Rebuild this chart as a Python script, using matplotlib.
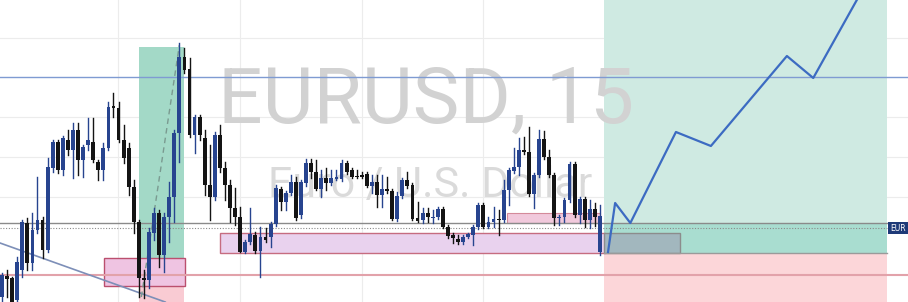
import matplotlib.pyplot as plt
from matplotlib.patches import Rectangle
import numpy as np

# candle colours: 'B' = bullish (blue), 'K' = bearish (black)
# values are chart levels (top = 0)
dirs = list('BKKBBKBBKBBKBKBKBBKK'
            'BBKKKKKKKBBKBBBBKKBK'
            'KKBKKKKKBBKBKBBKBBK'
            'BBKKBKBBBKKKKKBKBKKB'
            'BKKKBKBBKKKKBBBBKBBK'
            'BBBBKKBBKKKBBBKBKBKB')
body_top = [275, 276, 278, 262, 222, 223, 230, 220, 220, 167, 142, 142, 138, 140, 130, 130, 147, 140, 142, 162,
            148, 107, 106, 108, 140, 148, 187, 222, 278, 232, 213, 213, 217, 197, 133, 57, 57, 69, 117, 117,
            138, 185, 135, 135, 168, 185, 208, 217, 242, 234, 235, 237, 237, 224, 188, 189, 193, 182, 182,
            182, 163, 163, 172, 178, 178, 178, 177, 163, 163, 170, 176, 175, 174, 182, 182, 189, 189, 191, 196,
            180, 180, 185, 218, 213, 213, 217, 209, 209, 227, 235, 239, 237, 234, 227, 205, 205, 222, 219, 219,
            190, 170, 167, 150, 150, 152, 175, 139, 139, 157, 175, 217, 200, 164, 164, 199, 199, 209, 209, 216, 228]
body_bot = [297, 279, 302, 300, 270, 263, 263, 230, 250, 250, 168, 170, 170, 150, 150, 160, 160, 145, 160, 170,
            170, 148, 108, 140, 158, 187, 222, 278, 280, 280, 233, 255, 255, 217, 197, 133, 70, 135, 135, 135,
            185, 197, 197, 168, 185, 208, 217, 252, 252, 242, 251, 251, 240, 237, 224, 202, 202, 193, 218,
            215, 183, 172, 189, 189, 183, 183, 179, 179, 172, 177, 177, 177, 186, 186, 195, 195, 191, 219, 219,
            196, 186, 219, 221, 220, 217, 218, 217, 227, 236, 238, 242, 242, 237, 235, 227, 227, 227, 222, 220,
            220, 190, 171, 167, 152, 194, 194, 175, 157, 175, 218, 218, 217, 200, 215, 215, 220, 220, 217, 252, 252]
wick_top = [273, 270, 277, 257, 220, 218, 213, 177, 217, 158, 140, 140, 136, 130, 123, 123, 145, 118, 118, 160,
            143, 102, 93, 102, 125, 143, 180, 220, 270, 228, 208, 210, 213, 182, 130, 43, 48, 58, 115, 115,
            130, 145, 132, 125, 162, 180, 188, 207, 240, 208, 232, 227, 228, 222, 185, 187, 191, 175, 177,
            180, 159, 159, 160, 170, 168, 170, 170, 160, 161, 168, 170, 172, 172, 175, 175, 175, 177, 189, 192,
            178, 172, 183, 202, 208, 208, 210, 207, 207, 225, 233, 235, 235, 233, 225, 203, 203, 217, 207, 210,
            180, 168, 148, 138, 137, 127, 173, 130, 131, 150, 173, 215, 198, 162, 162, 197, 197, 200, 203, 205, 225]
wick_bot = [302, 297, 302, 302, 277, 270, 270, 233, 258, 252, 172, 173, 175, 155, 178, 175, 177, 150, 162, 180,
            180, 150, 117, 142, 163, 195, 233, 297, 298, 288, 240, 267, 272, 242, 222, 162, 73, 137, 153, 140,
            195, 220, 200, 172, 200, 222, 225, 252, 253, 244, 253, 277, 242, 247, 226, 210, 210, 195, 220,
            218, 186, 178, 190, 197, 190, 185, 180, 181, 174, 178, 178, 178, 187, 193, 207, 207, 193, 220, 221,
            198, 188, 220, 222, 223, 222, 223, 219, 228, 238, 243, 244, 244, 238, 245, 229, 228, 228, 227, 235,
            222, 205, 173, 175, 154, 196, 208, 177, 159, 177, 225, 225, 222, 202, 217, 223, 227, 228, 226, 255, 253]

# projected path of the long idea (bar, level)
path_x = [119.6, 121.0, 124.0, 133.0, 139.9, 154.9, 160.1, 168.7]
path_y = [252, 203, 223, 132, 146, 56, 78, 0]

blue_c = '#27448f'
black_c = '#141414'

fig = plt.figure(figsize=(9.08, 3.02), dpi=100)
ax = fig.add_axes([0, 0, 1, 1])
ax.set_xlim(-0.4, 178.8)
ax.set_ylim(302, 0)
ax.axis('off')

# grid
for gx in [22.9, 47.0, 71.0, 94.9, 119.0, 143.1, 167.0]:
    ax.axvline(gx, color='#ececec', lw=0.8, zorder=0)
for gy in [38, 117, 157, 197]:
    ax.axhline(gy, color='#ececec', lw=0.8, zorder=0)

# long position tool
ax.add_patch(Rectangle((118.8, 0), 174.7 - 118.8, 223, color='#cfeae2', lw=0, zorder=1))
ax.add_patch(Rectangle((118.8, 223), 174.7 - 118.8, 30, color='#a9ddd0', lw=0, zorder=1))
ax.add_patch(Rectangle((118.8, 253), 174.7 - 118.8, 49, color='#fcd6d9', lw=0, zorder=1))
ax.add_patch(Rectangle((118.8, 233), 133.8 - 118.8, 20, facecolor='#a2b7be', edgecolor='#8c8c8c', lw=1, zorder=3))
ax.plot([118.8, 174.7], [253, 253], color='#9a9a9a', lw=1, zorder=3)

# old long tool in the middle of the chart
ax.add_patch(Rectangle((27.0, 47), 8.9, 228, color='#a3d9c7', lw=0, zorder=1))
ax.add_patch(Rectangle((27.0, 275), 8.9, 27, color='#f9cbd3', lw=0, zorder=1))

# watermark
ax.text(42.6, 123, 'EURUSD, 15', fontsize=56.5, family='Roboto', color='#d2d2d2', zorder=1.5)
ax.text(52.5, 197, 'Euro / U.S. Dollar', fontsize=31, family='Roboto', color='#dadada', zorder=1.5)

# zones
ax.add_patch(Rectangle((20.1, 258), 16.0, 28, facecolor='#efc4e2', edgecolor='#bb4f6e', lw=1, zorder=2))
ax.add_patch(Rectangle((43.0, 233), 76.0, 20, facecolor='#e9d2ee', edgecolor='#c66c80', lw=1, zorder=2))
ax.add_patch(Rectangle((99.7, 213), 18.3, 10, facecolor='#f1c9dc', edgecolor='#d48a9a', lw=0.8, zorder=2))

# levels
ax.axhline(77, color='#7f9bd2', lw=1, zorder=2)
ax.axhline(223, color='#8a8a8a', lw=1, zorder=2)
ax.plot([-0.4, 174.7], [228, 228], color='#8a8a8a', lw=0.8, ls=(0, (1, 1.5)), zorder=2)
ax.axhline(275, color='#e2a2aa', lw=1.5, zorder=2)
ax.plot([-0.4, 32.2], [243, 302], color='#7d8fb8', lw=1.2, zorder=2)
ax.plot([27.5, 35.0], [297, 45], color='#7a9a90', lw=1, ls=(0, (4, 3)), zorder=2)

# candles
for i, d in enumerate(dirs):
    c = blue_c if d == 'B' else black_c
    ax.plot([i, i], [wick_top[i], wick_bot[i]], color=c, lw=1, zorder=4)
    h = max(body_bot[i] - body_top[i], 1.2)
    ax.add_patch(Rectangle((i - 0.38, body_top[i]), 0.76, h, color=c, lw=0, zorder=5))

# projected path
ax.plot(path_x, path_y, color='#3c6bc2', lw=1.6, zorder=6)

# price label
ax.add_patch(Rectangle((174.9, 222), 4.0, 12, color='#1e3a78', lw=0, zorder=6))
ax.text(175.2, 228.5, 'EUR', fontsize=5.5, color='white', va='center', ha='left', zorder=7)

plt.savefig('out.png', dpi=100)
